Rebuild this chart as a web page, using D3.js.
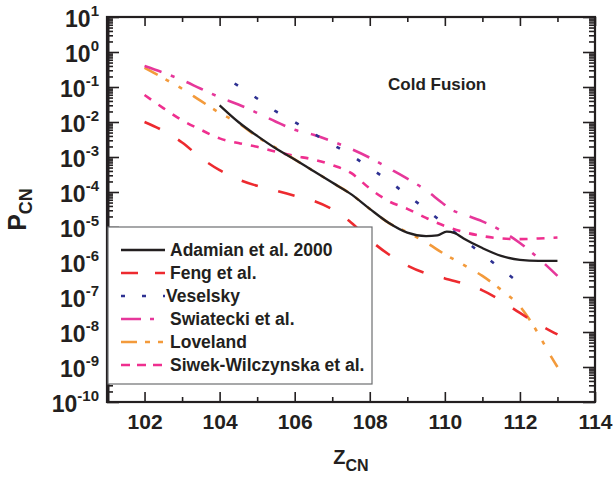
<!DOCTYPE html>
<html>
<head>
<meta charset="utf-8">
<script src="https://d3js.org/d3.v7.min.js"></script>
<style>
  body { margin: 0; background: #fff; }
  text { font-family: "Liberation Sans", Arial, sans-serif; font-weight: bold; fill: #231f20; }
</style>
</head>
<body>
<svg id="chart" width="614" height="481"></svg>
<script>
// values (P_CN vs Z_CN)
var zAdamian = [104, 104.5, 105, 105.5, 106, 106.5, 107, 107.5, 108, 108.5, 109, 109.5, 109.8, 110.05, 110.25, 110.5, 111, 111.5, 112, 112.5, 113];
var pAdamian = [3.0e-2, 1.0e-2, 4.0e-3, 1.74e-3, 8.5e-4, 4.0e-4, 1.86e-4, 8.7e-5, 3.3e-5, 1.32e-5, 6.9e-6, 5.5e-6, 5.75e-6, 7.4e-6, 6.8e-6, 4.7e-6, 2.5e-6, 1.5e-6, 1.15e-6, 1.07e-6, 1.07e-6];

var zFeng = [102, 102.5, 103, 103.5, 104, 104.5, 105, 105.5, 106, 106.5, 107, 107.5, 108, 108.5, 109, 109.5, 110, 110.5, 111, 111.5, 112, 112.5, 113];
var pFeng = [1.0e-2, 5.6e-3, 2.6e-3, 9.5e-4, 4.2e-4, 2.3e-4, 1.5e-4, 1.1e-4, 7.8e-5, 5.6e-5, 3.2e-5, 1.35e-5, 4.3e-6, 1.66e-6, 7.9e-7, 4.7e-7, 3.4e-7, 2.4e-7, 1.55e-7, 7.9e-8, 3.5e-8, 1.66e-8, 8.5e-9];

var zVeselsky = [104.4, 105, 105.5, 106, 106.5, 107, 107.5, 108, 108.5, 109, 109.5, 110, 110.5, 111, 111.5, 111.9];
var pVeselsky = [0.126, 4.7e-2, 2.0e-2, 1.0e-2, 4.7e-3, 2.3e-3, 1.12e-3, 4.9e-4, 2.1e-4, 8.1e-5, 3.2e-5, 1.17e-5, 4.4e-6, 1.66e-6, 6.3e-7, 2.95e-7];

var zSwiatecki = [102, 102.5, 103, 103.5, 104, 104.5, 105, 105.5, 106, 106.5, 107, 107.5, 108, 108.5, 109, 109.5, 109.9, 110.2, 110.5, 111, 111.5, 112, 112.5, 113];
var pSwiatecki = [0.40, 0.257, 0.158, 8.9e-2, 5.1e-2, 3.16e-2, 1.82e-2, 1.02e-2, 6.0e-3, 4.3e-3, 2.8e-3, 1.7e-3, 9.5e-4, 4.8e-4, 2.4e-4, 1.12e-4, 5.2e-5, 3.0e-5, 2.3e-5, 1.45e-5, 7.9e-6, 3.5e-6, 1.26e-6, 4.0e-7];

var zLoveland = [102, 102.5, 103, 103.5, 104, 104.5, 105, 105.5, 106, 106.5, 107, 107.5, 108, 108.5, 109, 109.5, 110, 110.5, 111, 111.5, 112, 112.5, 112.75, 113];
var pLoveland = [0.355, 0.18, 8.9e-2, 4.0e-2, 1.82e-2, 9.3e-3, 3.8e-3, 1.82e-3, 8.5e-4, 4.0e-4, 1.86e-4, 8.7e-5, 3.3e-5, 1.32e-5, 7.1e-6, 3.6e-6, 1.66e-6, 8.3e-7, 4.0e-7, 1.6e-7, 5.4e-8, 8.5e-9, 2.8e-9, 1.0e-9];

var zSiwek = [102, 102.5, 103, 103.5, 104, 104.5, 105, 105.5, 106, 106.5, 107, 107.5, 108, 108.5, 109, 109.5, 110, 110.5, 111, 111.5, 112, 112.5, 113];
var pSiwek = [5.9e-2, 2.5e-2, 1.12e-2, 6.0e-3, 3.4e-3, 2.5e-3, 1.95e-3, 1.41e-3, 1.07e-3, 8.5e-4, 5.9e-4, 3.5e-4, 1.26e-4, 5.5e-5, 3.3e-5, 1.82e-5, 1.07e-5, 7.2e-6, 5.5e-6, 4.7e-6, 4.5e-6, 4.7e-6, 5.0e-6];

var seriesNames = ["Adamian et al. 2000", "Feng et al.", "Veselsky", "Swiatecki et al.", "Loveland", "Siwek-Wilczynska et al."];
var xTicks = [102, 104, 106, 108, 110, 112, 114];
var xMinorTicks = [101, 103, 105, 107, 109, 111, 113];
var yExponents = [1, 0, -1, -2, -3, -4, -5, -6, -7, -8, -9, -10];

var series = [
  {name: seriesNames[0], z: zAdamian,   p: pAdamian,   color: "#231f20", dash: null,               legendDash: null},
  {name: seriesNames[1], z: zFeng,      p: pFeng,      color: "#ed2a2f", dash: "17,21",            legendDash: "17,17"},
  {name: seriesNames[2], z: zVeselsky,  p: pVeselsky,  color: "#2e3192", dash: "4,20",             legendDash: "4,17"},
  {name: seriesNames[3], z: zSwiatecki, p: pSwiatecki, color: "#e6379a", dash: "18,10,4,13",       legendDash: "20,9,4,20"},
  {name: seriesNames[4], z: zLoveland,  p: pLoveland,  color: "#f39a3b", dash: "15,9,4,11,4,13",  legendDash: "16,8,5,8,5,20"},
  {name: seriesNames[5], z: zSiwek,     p: pSiwek,     color: "#ef2f8f", dash: "8,9",              legendDash: "9,7"}
];

var svg = d3.select("#chart");
var plotL = 107, plotR = 595, plotT = 17, plotB = 402;

var x = d3.scaleLinear().domain([101, 114]).range([plotL, plotR]);
var y = d3.scaleLog().domain([1e-10, 10]).range([plotB, plotT]);

var majorY = yExponents.map(function(e){ return Math.pow(10, e); });
var minorY = [];
for (var e = -10; e < 1; e++) {
  for (var m = 2; m <= 9; m++) minorY.push(m * Math.pow(10, e));
}

// curves
var line = d3.line()
  .x(function(d){ return x(d[0]); })
  .y(function(d){ return y(d[1]); })
  .curve(d3.curveMonotoneX);

var plot = svg.append("g");
series.slice().reverse().forEach(function(s){
  var pts = s.z.map(function(z, i){ return [z, s.p[i]]; });
  plot.append("path")
    .attr("d", line(pts))
    .attr("fill", "none")
    .attr("stroke", s.color)
    .attr("stroke-width", s.dash ? 2.6 : 2.3)
    .attr("stroke-dasharray", s.dash);
});

// axes, ticks pointing in
function clean(g) {
  g.select(".domain").remove();
  g.selectAll(".tick line").attr("stroke", "#231f20").attr("stroke-width", 1.6);
}
svg.append("g").attr("transform", "translate(0," + plotB + ")")
  .call(d3.axisBottom(x).tickValues(xTicks).tickSize(-10).tickPadding(12).tickFormat(d3.format("d")))
  .call(clean)
  .selectAll("text").style("font-size", "21px").style("font-family", "Liberation Sans, Arial, sans-serif").attr("fill", "#231f20");
svg.append("g").attr("transform", "translate(0," + plotB + ")")
  .call(d3.axisBottom(x).tickValues(xMinorTicks).tickSize(-5).tickFormat(""))
  .call(clean);
svg.append("g").attr("transform", "translate(0," + plotT + ")")
  .call(d3.axisTop(x).tickValues(xTicks).tickSize(-9).tickFormat(""))
  .call(clean);
svg.append("g").attr("transform", "translate(0," + plotT + ")")
  .call(d3.axisTop(x).tickValues(xMinorTicks).tickSize(-5).tickFormat(""))
  .call(clean);

svg.append("g").attr("transform", "translate(" + plotL + ",0)")
  .call(d3.axisLeft(y).tickValues(majorY).tickSize(-12).tickFormat(""))
  .call(clean);
svg.append("g").attr("transform", "translate(" + plotL + ",0)")
  .call(d3.axisLeft(y).tickValues(minorY).tickSize(-6).tickFormat(""))
  .call(clean);
svg.append("g").attr("transform", "translate(" + plotR + ",0)")
  .call(d3.axisRight(y).tickValues(majorY).tickSize(-12).tickFormat(""))
  .call(clean);
svg.append("g").attr("transform", "translate(" + plotR + ",0)")
  .call(d3.axisRight(y).tickValues(minorY).tickSize(-6).tickFormat(""))
  .call(clean);

// frame
svg.append("rect")
  .attr("x", plotL).attr("y", plotT)
  .attr("width", plotR - plotL).attr("height", plotB - plotT)
  .attr("fill", "none").attr("stroke", "#231f20").attr("stroke-width", 2.2);
svg.append("line")
  .attr("x1", plotL + 1).attr("x2", plotL + 1)
  .attr("y1", plotT).attr("y2", plotB)
  .attr("stroke", "#231f20").attr("stroke-width", 3);

// y tick labels 10^n
yExponents.forEach(function(e){
  var t = svg.append("text")
    .attr("x", 99).attr("y", y(Math.pow(10, e)) + 10)
    .attr("text-anchor", "end")
    .style("font-size", "23px");
  t.append("tspan").text("10");
  t.append("tspan").attr("dy", -11).style("font-size", "15px").text(e);
});

// axis titles
var yt = svg.append("text")
  .attr("transform", "translate(26," + ((plotT + plotB) / 2) + ") rotate(-90)")
  .attr("text-anchor", "middle");
yt.append("tspan").style("font-size", "25px").text("P");
yt.append("tspan").attr("dy", 6).style("font-size", "18px").text("CN");

var xt = svg.append("text")
  .attr("x", (plotL + plotR) / 2).attr("y", 464)
  .attr("text-anchor", "middle");
xt.append("tspan").style("font-size", "20px").text("Z");
xt.append("tspan").attr("dy", 7).style("font-size", "16px").text("CN");

svg.append("text")
  .attr("x", 388).attr("y", 90)
  .style("font-size", "17px")
  .text("Cold Fusion");

// legend
var lg = svg.append("g");
lg.append("rect")
  .attr("x", 108).attr("y", 227)
  .attr("width", 264).attr("height", 157)
  .attr("fill", "#fff").attr("stroke", "#6d6e71").attr("stroke-width", 1.2);
series.forEach(function(s, i){
  var ry = 250 + i * 23;
  lg.append("line")
    .attr("x1", 121).attr("x2", 165)
    .attr("y1", ry).attr("y2", ry)
    .attr("stroke", s.color)
    .attr("stroke-width", s.legendDash ? 2.6 : 2.3)
    .attr("stroke-dasharray", s.legendDash);
  lg.append("text")
    .attr("x", i === 2 ? 166 : 170).attr("y", ry + 6)
    .style("font-size", "17.5px")
    .text(s.name);
});
</script>
</body>
</html>
